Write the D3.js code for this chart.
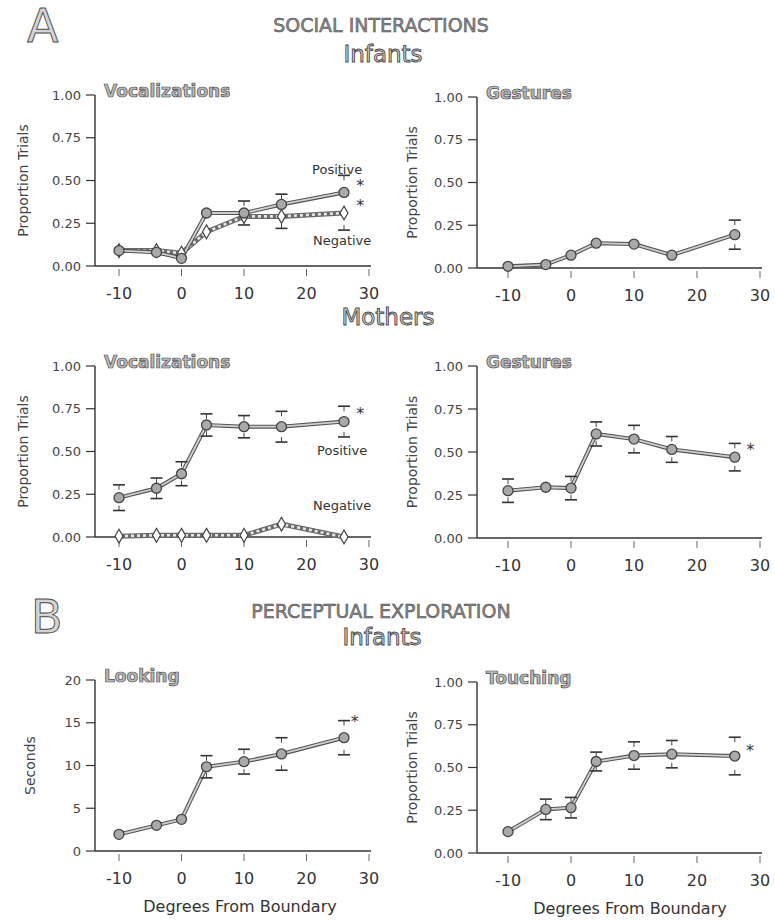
<!DOCTYPE html>
<html>
<head>
<meta charset="utf-8">
<script src="https://cdn.jsdelivr.net/npm/d3@7"></script>
<style>
  body { margin: 0; background: #fff; }
  svg { display: block; }
</style>
</head>
<body>
<svg id="fig" width="775" height="920"></svg>
<script>
// degrees from boundary (same for every panel)
const degrees = [-10, -4, 0, 4, 10, 16, 26];
const xTicks = [-10, 0, 10, 20, 30];
const propTicks = [0, 0.25, 0.5, 0.75, 1];
const secTicks = [0, 5, 10, 15, 20];

// A. infants
const infVocPos = [0.09, 0.08, 0.045, 0.31, 0.31, 0.36, 0.43];
const infVocPosSE = [null, null, null, null, 0.07, 0.06, 0.10];
const infVocNeg = [0.09, 0.09, 0.075, 0.20, 0.29, 0.29, 0.31];
const infVocNegSE = [null, null, null, null, 0.05, 0.07, 0.10];
const infGest = [0.01, 0.02, 0.075, 0.145, 0.14, 0.075, 0.195];
const infGestSE = [null, null, null, null, null, null, 0.085];

// A. mothers
const momVocPos = [0.23, 0.285, 0.37, 0.655, 0.645, 0.645, 0.675];
const momVocPosSE = [0.075, 0.06, 0.07, 0.065, 0.065, 0.09, 0.09];
const momVocNeg = [0.005, 0.01, 0.01, 0.01, 0.01, 0.075, 0.0];
const momGest = [0.275, 0.295, 0.29, 0.605, 0.575, 0.515, 0.47];
const momGestSE = [0.068, null, 0.068, 0.07, 0.08, 0.075, 0.08];

// B. infants
const looking = [1.95, 3.0, 3.7, 9.85, 10.45, 11.35, 13.25];
const lookingSE = [null, null, null, 1.3, 1.45, 1.9, 2.0];
const touching = [0.125, 0.255, 0.265, 0.535, 0.57, 0.578, 0.567];
const touchingSE = [null, 0.06, 0.06, 0.055, 0.08, 0.08, 0.11];

const svg = d3.select("#fig");
const FONT = "'DejaVu Sans', sans-serif";

svg.append("rect").attr("width", 775).attr("height", 920).attr("fill", "#fff");

function outlined(x, y, txt, size, anchor) {
    svg.append("text")
        .attr("x", x).attr("y", y)
        .attr("text-anchor", anchor || "middle")
        .attr("font-family", FONT)
        .attr("font-size", size)
        .attr("fill", "#d4d4d4")
        .attr("stroke", "#4a4a4a")
        .attr("stroke-width", 0.9)
        .text(txt);
}

function header(x, y, txt) {
    svg.append("text")
        .attr("x", x).attr("y", y)
        .attr("text-anchor", "middle")
        .attr("font-family", FONT)
        .attr("font-size", 19)
        .attr("fill", "#8a8a8a")
        .attr("stroke", "#444")
        .attr("stroke-width", 0.5)
        .text(txt);
}

outlined(27, 42, "A", 46, "start");
header(381, 32, "SOCIAL INTERACTIONS");
outlined(383, 62, "Infants", 23);
outlined(388, 325, "Mothers", 23);
outlined(31, 633, "B", 46, "start");
header(381, 618, "PERCEPTUAL EXPLORATION");
outlined(382, 645, "Infants", 23);

function drawPanel(p) {
    const x = d3.scaleLinear().domain([-10, 30]).range(p.xr);
    const y = d3.scaleLinear().domain([0, p.ymax]).range([p.y0, p.y1]);
    const g = svg.append("g");

    // axes
    g.append("line").attr("x1", p.axisX).attr("x2", p.axisX)
        .attr("y1", y(0)).attr("y2", y(p.ymax))
        .attr("stroke", "#333").attr("stroke-width", 1.4);
    g.append("line").attr("x1", p.axisX).attr("x2", x(30) + 2)
        .attr("y1", y(0)).attr("y2", y(0))
        .attr("stroke", "#333").attr("stroke-width", 1.6);

    p.yTicks.forEach(t => {
        g.append("line").attr("x1", p.axisX - 9).attr("x2", p.axisX)
            .attr("y1", y(t)).attr("y2", y(t))
            .attr("stroke", "#333").attr("stroke-width", 1.2);
        g.append("text")
            .attr("x", p.axisX - 14).attr("y", y(t) + 4.5)
            .attr("text-anchor", "end")
            .attr("font-family", FONT).attr("font-size", 13)
            .attr("fill", "#444")
            .text(p.fmt(t));
    });

    xTicks.forEach(t => {
        g.append("line").attr("x1", x(t)).attr("x2", x(t))
            .attr("y1", y(0) + 3).attr("y2", y(0) + 10)
            .attr("stroke", "#666").attr("stroke-width", 1);
        g.append("text")
            .attr("x", x(t)).attr("y", y(0) + 33)
            .attr("text-anchor", "middle")
            .attr("font-family", FONT).attr("font-size", 16)
            .attr("fill", "#333")
            .text(t);
    });

    // y title
    const yc = (p.y0 + p.y1) / 2;
    g.append("text")
        .attr("transform", `translate(${p.axisX - p.ytOff},${yc}) rotate(-90)`)
        .attr("text-anchor", "middle")
        .attr("font-family", FONT).attr("font-size", 14)
        .attr("fill", "#444")
        .text(p.ytitle);

    if (p.xtitle) {
        g.append("text")
            .attr("x", (x(-10) + x(30)) / 2 - 4).attr("y", y(0) + 61)
            .attr("text-anchor", "middle")
            .attr("font-family", FONT).attr("font-size", 16)
            .attr("fill", "#333")
            .text(p.xtitle);
    }

    // panel title
    g.append("text")
        .attr("x", p.axisX + 9).attr("y", y(p.ymax) + 2)
        .attr("font-family", FONT).attr("font-size", 17)
        .attr("font-weight", "bold")
        .attr("fill", "#b8b8b8").attr("stroke", "#4a4a4a").attr("stroke-width", 0.7)
        .text(p.title);

    const line = d3.line().x((d, i) => x(degrees[i])).y(d => y(d));

    // error bars: T caps with short stems
    function errBars(vals, se, dir) {
        vals.forEach((v, i) => {
            if (se[i] == null) return;
            const cx = x(degrees[i]);
            [1, -1].forEach(s => {
                if (dir && s !== dir) return;
                const cy = y(v + s * se[i]);
                g.append("line").attr("x1", cx - 6).attr("x2", cx + 6)
                    .attr("y1", cy).attr("y2", cy)
                    .attr("stroke", "#333").attr("stroke-width", 1.6);
                g.append("line").attr("x1", cx).attr("x2", cx)
                    .attr("y1", cy).attr("y2", cy + s * 5)
                    .attr("stroke", "#444").attr("stroke-width", 1);
            });
        });
    }

    // negative series: beaded line with white diamonds
    if (p.neg) {
        g.append("path").datum(p.neg).attr("d", line)
            .attr("fill", "none").attr("stroke", "#6a6a6a").attr("stroke-width", 5);
        g.append("path").datum(p.neg).attr("d", line)
            .attr("fill", "none").attr("stroke", "#e6e6e6").attr("stroke-width", 2.6)
            .attr("stroke-dasharray", "3,3");
        if (p.negSE) errBars(p.neg, p.negSE, -1);
    }

    // main series: double line with gray circles
    g.append("path").datum(p.vals).attr("d", line)
        .attr("fill", "none").attr("stroke", "#555").attr("stroke-width", 4);
    g.append("path").datum(p.vals).attr("d", line)
        .attr("fill", "none").attr("stroke", "#cfcfcf").attr("stroke-width", 1.8);
    errBars(p.vals, p.se, p.posDir);

    if (p.neg) {
        g.selectAll(null).data(p.neg).enter().append("path")
            .attr("transform", (d, i) => `translate(${x(degrees[i])},${y(d)})`)
            .attr("d", d3.symbol(d3.symbolDiamond, 55))
            .attr("fill", "#fff").attr("stroke", "#444").attr("stroke-width", 1.2);
    }

    g.selectAll(null).data(p.vals).enter().append("circle")
        .attr("cx", (d, i) => x(degrees[i]))
        .attr("cy", d => y(d))
        .attr("r", 5)
        .attr("fill", "#a9a9a9").attr("stroke", "#444").attr("stroke-width", 1.3);

    // labels and asterisks
    (p.notes || []).forEach(n => {
        g.append("text")
            .attr("x", x(n.x)).attr("y", y(n.y))
            .attr("text-anchor", "middle")
            .attr("font-family", FONT).attr("font-size", n.size || 13)
            .attr("fill", "#333")
            .text(n.t);
    });
}

const left = { axisX: 95, xr: [119, 369] };
const right = { axisX: 477, xr: [508, 760] };
const fmtP = d3.format(".2f");

drawPanel({ ...left, y0: 266, y1: 95, ymax: 1, yTicks: propTicks, fmt: fmtP,
    ytitle: "Proportion Trials", ytOff: 67, title: "Vocalizations",
    vals: infVocPos, se: infVocPosSE, posDir: 1, neg: infVocNeg, negSE: infVocNegSE,
    notes: [{ t: "Positive", x: 24.9, y: 0.54 }, { t: "Negative", x: 25.7, y: 0.125 },
            { t: "*", x: 28.6, y: 0.44, size: 16 }, { t: "*", x: 28.6, y: 0.32, size: 16 }] });

drawPanel({ ...right, y0: 268, y1: 97, ymax: 1, yTicks: propTicks, fmt: fmtP,
    ytitle: "Proportion Trials", ytOff: 60, title: "Gestures",
    vals: infGest, se: infGestSE });

drawPanel({ ...left, y0: 537, y1: 366, ymax: 1, yTicks: propTicks, fmt: fmtP,
    ytitle: "Proportion Trials", ytOff: 67, title: "Vocalizations",
    vals: momVocPos, se: momVocPosSE, neg: momVocNeg,
    notes: [{ t: "Positive", x: 25.7, y: 0.48 }, { t: "Negative", x: 25.7, y: 0.155 },
            { t: "*", x: 28.6, y: 0.69, size: 16 }] });

drawPanel({ ...right, y0: 538, y1: 366, ymax: 1, yTicks: propTicks, fmt: fmtP,
    ytitle: "Proportion Trials", ytOff: 60, title: "Gestures",
    vals: momGest, se: momGestSE,
    notes: [{ t: "*", x: 28.5, y: 0.48, size: 16 }] });

drawPanel({ ...left, y0: 851, y1: 680, ymax: 20, yTicks: secTicks, fmt: d3.format("d"),
    ytitle: "Seconds", ytOff: 60, title: "Looking", xtitle: "Degrees From Boundary",
    vals: looking, se: lookingSE,
    notes: [{ t: "*", x: 27.7, y: 14.5, size: 16 }] });

drawPanel({ ...right, y0: 853, y1: 682, ymax: 1, yTicks: propTicks, fmt: fmtP,
    ytitle: "Proportion Trials", ytOff: 60, title: "Touching", xtitle: "Degrees From Boundary",
    vals: touching, se: touchingSE,
    notes: [{ t: "*", x: 28.4, y: 0.57, size: 16 }] });
</script>
</body>
</html>
